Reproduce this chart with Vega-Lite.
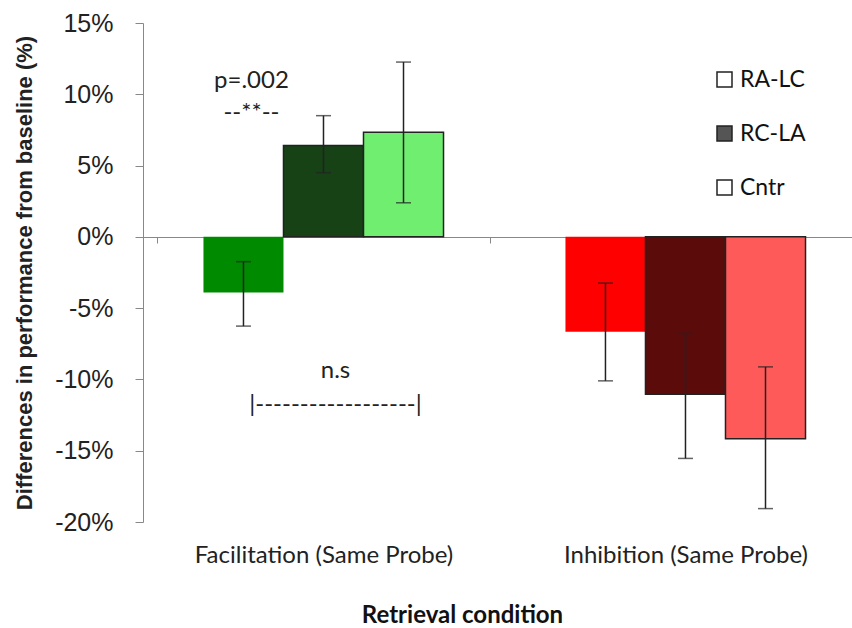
{
  "$schema": "https://vega.github.io/schema/vega-lite/v6.json",
  "width": 709,
  "height": 499,
  "autosize": {"type": "none"},
  "padding": {"left": 143, "top": 23, "right": 0, "bottom": 106},
  "background": "white",
  "config": {
    "view": {"stroke": null},
    "font": "Lato",
    "axisY": {
      "grid": false,
      "domainColor": "#888888",
      "tickColor": "#888888",
      "tickSize": 8,
      "labelFont": "Liberation Sans",
      "labelFontSize": 25,
      "labelColor": "#222222",
      "labelPadding": 22,
      "titleFont": "Liberation Sans",
      "titleFontSize": 22,
      "titleFontWeight": "bold",
      "titleColor": "#222222",
      "titlePadding": 18
    }
  },
  "datasets": {
    "bars": [
      {"category": "Facilitation (Same Probe)", "series": "RA-LC", "key": "F-RA-LC", "value": -0.039, "lo": -0.0626, "hi": -0.0174},
      {"category": "Facilitation (Same Probe)", "series": "RC-LA", "key": "F-RC-LA", "value": 0.064, "lo": 0.045, "hi": 0.085},
      {"category": "Facilitation (Same Probe)", "series": "Cntr", "key": "F-Cntr", "value": 0.0733, "lo": 0.0239, "hi": 0.1226},
      {"category": "Inhibition (Same Probe)", "series": "RA-LC", "key": "I-RA-LC", "value": -0.0666, "lo": -0.101, "hi": -0.0324},
      {"category": "Inhibition (Same Probe)", "series": "RC-LA", "key": "I-RC-LA", "value": -0.1104, "lo": -0.1554, "hi": -0.0677},
      {"category": "Inhibition (Same Probe)", "series": "Cntr", "key": "I-Cntr", "value": -0.1416, "lo": -0.1906, "hi": -0.0912}
    ],
    "notesA": [
      {"category": "Facilitation (Same Probe)", "series": "RA-LC", "y": 0.1045, "text": "p=.002"},
      {"category": "Facilitation (Same Probe)", "series": "RA-LC", "y": 0.082, "text": "--**--"}
    ],
    "notesB": [
      {"category": "Facilitation (Same Probe)", "series": "RC-LA", "y": -0.0989, "text": "n.s"},
      {"category": "Facilitation (Same Probe)", "series": "RC-LA", "y": -0.1228, "text": "|------------------|"}
    ]
  },
  "encoding": {
    "x": {
      "field": "category",
      "type": "nominal",
      "sort": ["Facilitation (Same Probe)", "Inhibition (Same Probe)"],
      "scale": {"paddingInner": 0.08, "paddingOuter": 0.0193, "align": 1},
      "axis": {
        "title": "Retrieval condition",
        "orient": "bottom",
        "offset": -285,
        "domainColor": "#888888",
        "tickColor": "#888888",
        "tickBand": "extent",
        "tickSize": 6,
        "labelAngle": 0,
        "labelFont": "Lato",
        "labelFontSize": 24,
        "labelColor": "#222222",
        "labelPadding": 300,
        "labelLimit": 500,
        "titleFont": "Lato",
        "titleFontSize": 24,
        "titleFontWeight": "bold",
        "titleColor": "#111111",
        "titleBaseline": "alphabetic",
        "titleX": 319,
        "titleY": 385
      }
    },
    "xOffset": {
      "field": "series",
      "type": "nominal",
      "scale": {"domain": ["RA-LC", "RC-LA", "Cntr"], "paddingInner": 0, "paddingOuter": 0.581}
    }
  },
  "layer": [
    {
      "data": {"name": "bars"},
      "mark": {"type": "bar"},
      "encoding": {
        "y": {
          "field": "value",
          "type": "quantitative",
          "scale": {"domain": [-0.2, 0.15], "nice": false},
          "axis": {
            "title": "Differences in performance from baseline (%)",
            "values": [-0.2, -0.15, -0.1, -0.05, 0, 0.05, 0.1, 0.15],
            "labelExpr": "replace(format(datum.value, '.0%'), '\u2212', '-')"
          }
        },
        "fill": {
          "field": "key",
          "type": "nominal",
          "scale": {
            "domain": ["F-RA-LC", "F-RC-LA", "F-Cntr", "I-RA-LC", "I-RC-LA", "I-Cntr"],
            "range": ["#008a00", "#164216", "#70ee70", "#ff0000", "#5c0b0b", "#ff5a5a"]
          },
          "legend": null
        },
        "stroke": {
          "field": "series",
          "type": "nominal",
          "scale": {"domain": ["RA-LC", "RC-LA", "Cntr"], "range": ["#222222", "#222222", "#222222"]},
          "legend": {
            "title": null,
            "orient": "none",
            "legendX": 570,
            "legendY": 45,
            "padding": 0,
            "symbolType": "square",
            "symbolSize": 225,
            "symbolStrokeWidth": 1.5,
            "symbolFillColor": "#ffffff",
            "labelFont": "Lato",
            "labelFontSize": 23,
            "labelColor": "#111111",
            "labelOffset": 4,
            "rowPadding": 30,
            "encode": {
              "symbols": {
                "update": {
                  "fill": {"signal": "datum.value === 'RC-LA' ? '#555555' : '#ffffff'"}
                }
              }
            }
          }
        },
        "strokeWidth": {
          "condition": {"test": "datum.series === 'RA-LC'", "value": 0},
          "value": 1.5
        }
      }
    },
    {
      "data": {"name": "bars"},
      "mark": {"type": "rule", "color": "#222222", "strokeWidth": 1.5},
      "encoding": {
        "y": {
          "field": "lo", "type": "quantitative",
          "scale": {"domain": [-0.2, 0.15], "nice": false},
          "axis": {
            "title": "Differences in performance from baseline (%)",
            "values": [-0.2, -0.15, -0.1, -0.05, 0, 0.05, 0.1, 0.15],
            "labelExpr": "replace(format(datum.value, '.0%'), '\u2212', '-')"
          }
        },
        "y2": {"field": "hi"}
      }
    },
    {
      "data": {"name": "bars"},
      "mark": {"type": "tick", "color": "#222222", "size": 15, "thickness": 1.5},
      "encoding": {
        "y": {
          "field": "lo", "type": "quantitative",
          "scale": {"domain": [-0.2, 0.15], "nice": false},
          "axis": {
            "title": "Differences in performance from baseline (%)",
            "values": [-0.2, -0.15, -0.1, -0.05, 0, 0.05, 0.1, 0.15],
            "labelExpr": "replace(format(datum.value, '.0%'), '\u2212', '-')"
          }
        }
      }
    },
    {
      "data": {"name": "bars"},
      "mark": {"type": "tick", "color": "#222222", "size": 15, "thickness": 1.5},
      "encoding": {
        "y": {
          "field": "hi", "type": "quantitative",
          "scale": {"domain": [-0.2, 0.15], "nice": false},
          "axis": {
            "title": "Differences in performance from baseline (%)",
            "values": [-0.2, -0.15, -0.1, -0.05, 0, 0.05, 0.1, 0.15],
            "labelExpr": "replace(format(datum.value, '.0%'), '\u2212', '-')"
          }
        }
      }
    },
    {
      "data": {"name": "notesA"},
      "mark": {"type": "text", "font": "Lato", "fontSize": 24, "color": "#222222", "dx": 8, "baseline": "alphabetic", "align": "center"},
      "encoding": {
        "y": {
          "field": "y", "type": "quantitative",
          "scale": {"domain": [-0.2, 0.15], "nice": false},
          "axis": {
            "title": "Differences in performance from baseline (%)",
            "values": [-0.2, -0.15, -0.1, -0.05, 0, 0.05, 0.1, 0.15],
            "labelExpr": "replace(format(datum.value, '.0%'), '\u2212', '-')"
          }
        },
        "text": {"field": "text"}
      }
    },
    {
      "data": {"name": "notesB"},
      "mark": {"type": "text", "font": "Lato", "fontSize": 24, "color": "#222222", "dx": 12, "baseline": "alphabetic", "align": "center"},
      "encoding": {
        "y": {
          "field": "y", "type": "quantitative",
          "scale": {"domain": [-0.2, 0.15], "nice": false},
          "axis": {
            "title": "Differences in performance from baseline (%)",
            "values": [-0.2, -0.15, -0.1, -0.05, 0, 0.05, 0.1, 0.15],
            "labelExpr": "replace(format(datum.value, '.0%'), '\u2212', '-')"
          }
        },
        "text": {"field": "text"}
      }
    }
  ]
}
